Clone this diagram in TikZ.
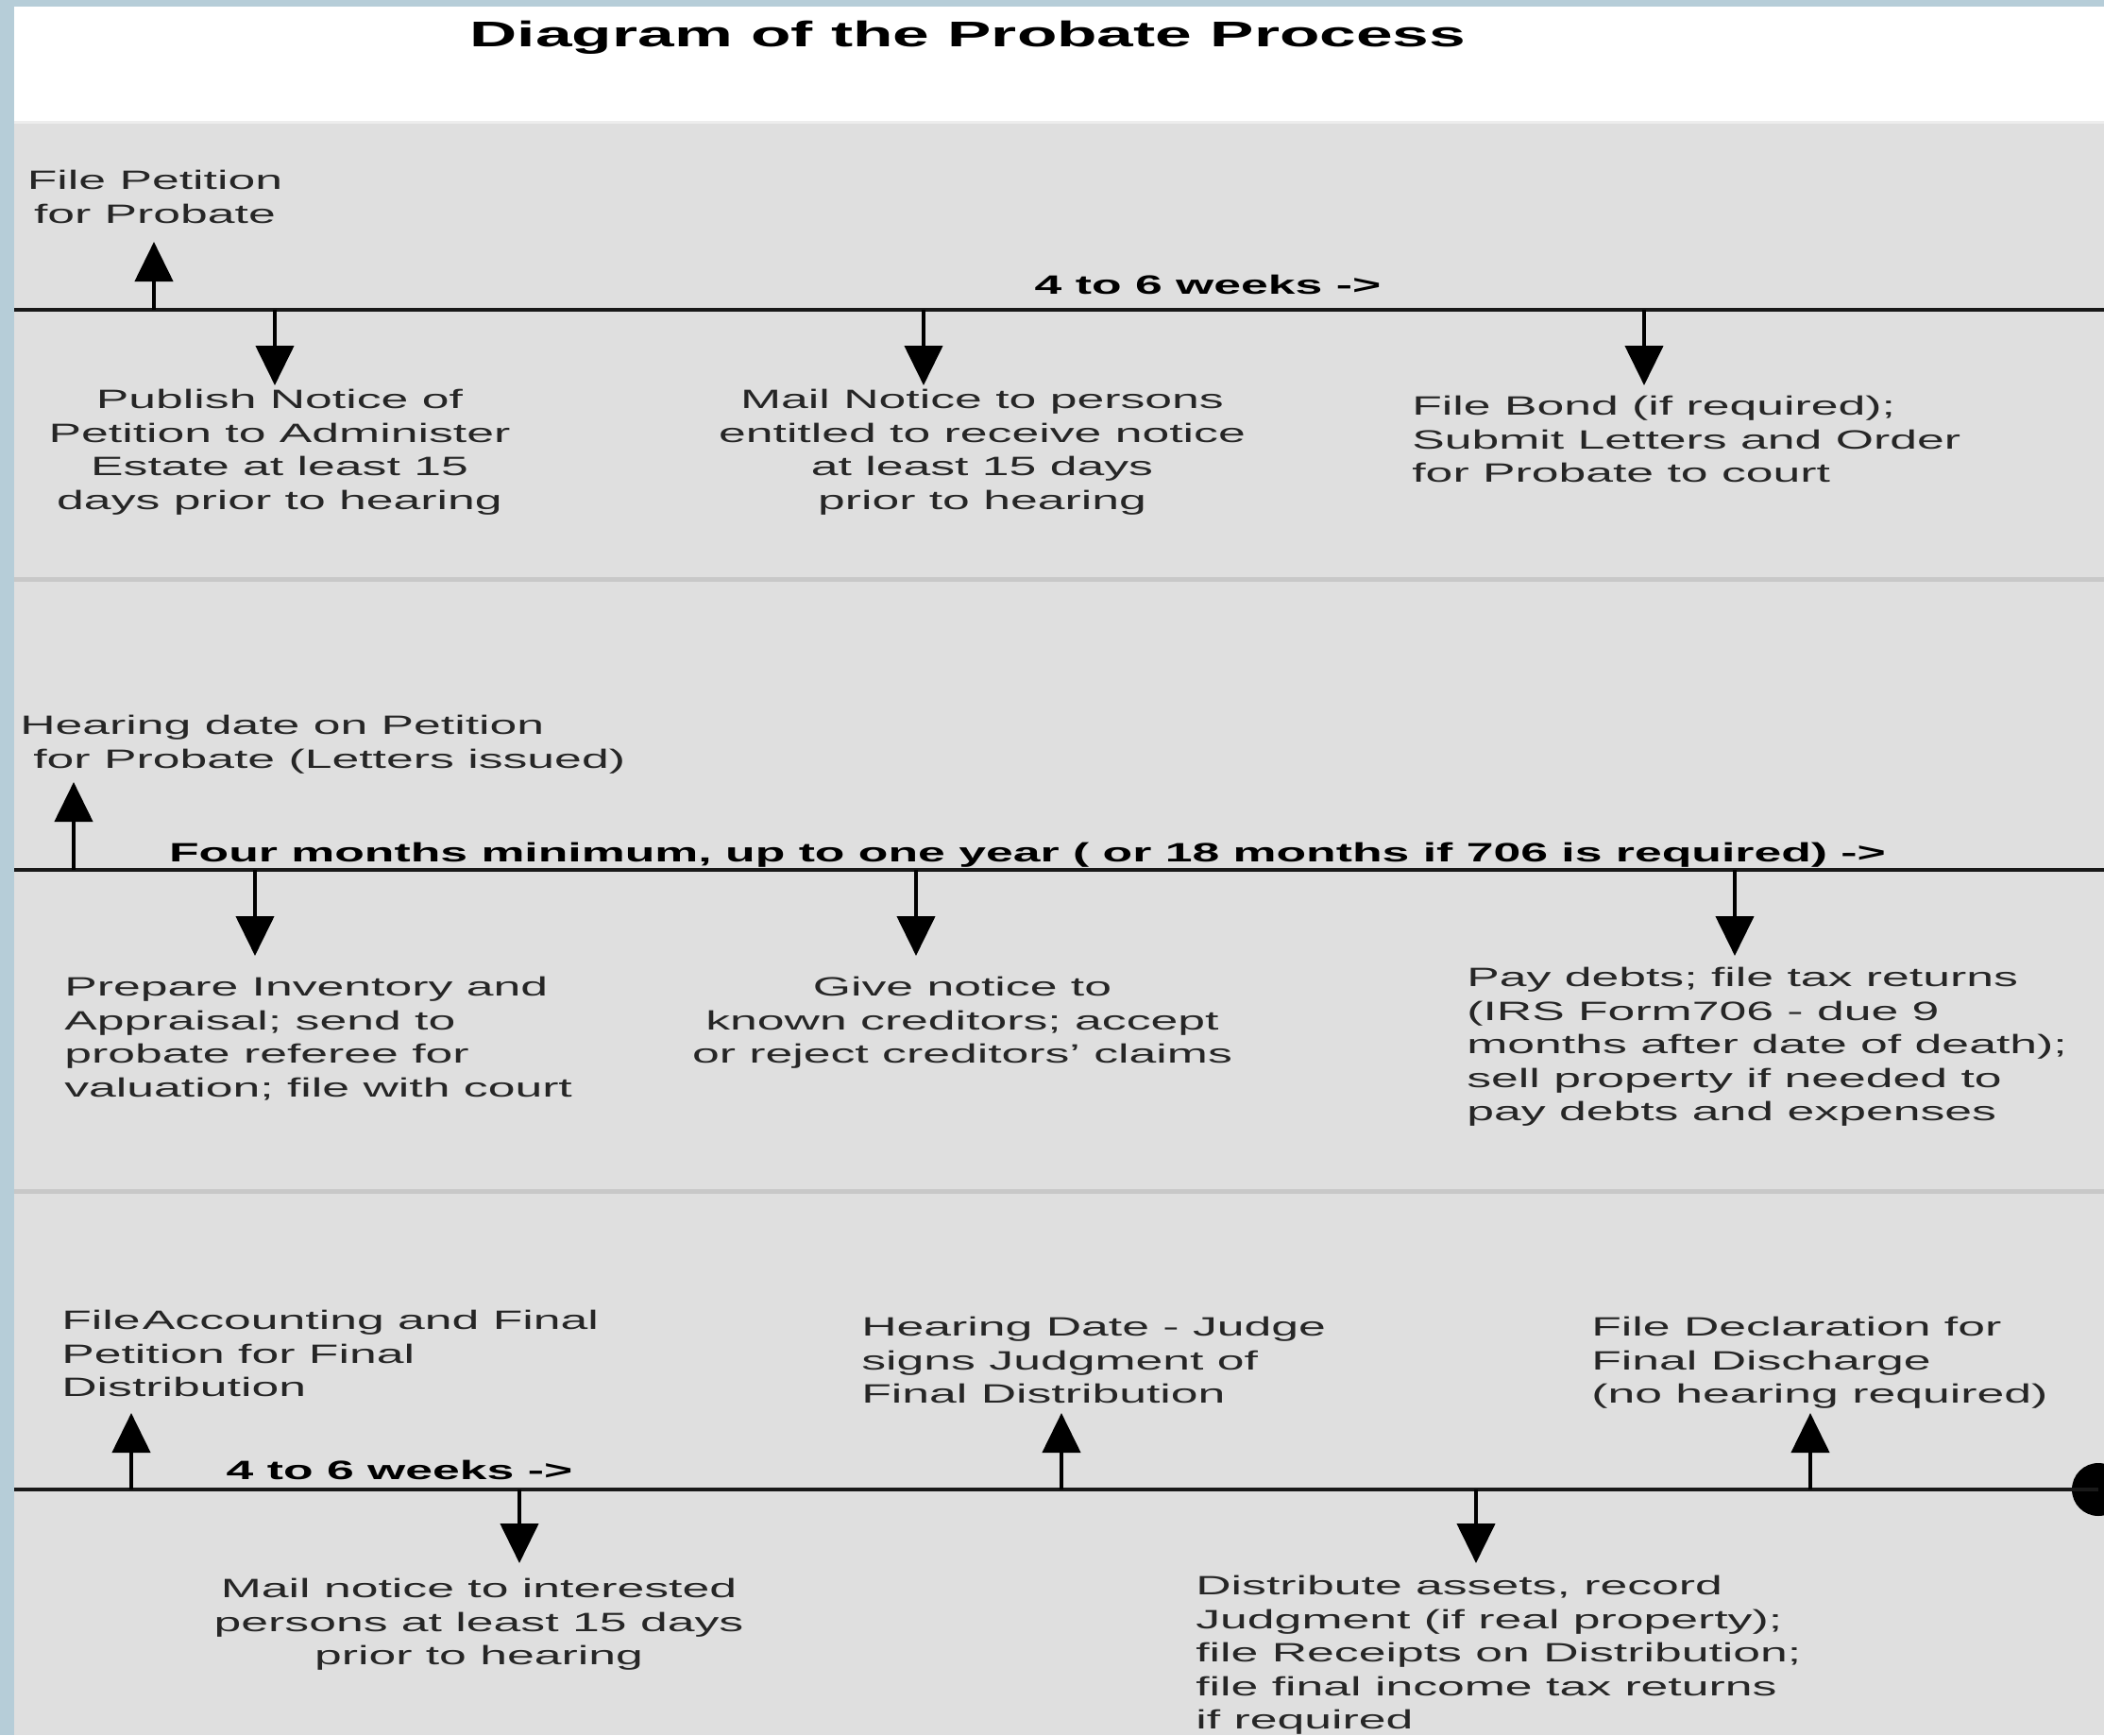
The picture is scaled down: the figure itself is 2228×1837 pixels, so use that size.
\documentclass[tikz,border=0pt]{standalone}
\usepackage{fontspec}
\setmainfont{Liberation Sans}[FakeStretch=1.84]
\usetikzlibrary{arrows.meta}

\definecolor{framebl}{HTML}{B6CDD8}
\definecolor{panelgr}{HTML}{DFDFDF}
\definecolor{sepgr}{HTML}{C8C8C8}

\tikzset{
  timeline/.style={line width=2.7pt, draw=black!90},
  evt/.style={line width=2.5pt, -{Triangle[width=0.8cm,length=0.84cm]}},
  lbl/.style={inner sep=0pt, font=\fontsize{16}{20.2}\selectfont, text=black!85},
  wk/.style={inner sep=0pt, font=\fontsize{16}{20.2}\selectfont\bfseries, anchor=base},
  enddot/.style={circle, fill=black, minimum size=1.12cm, inner sep=0pt},
}

\begin{document}
\begin{tikzpicture}[x=0.02cm, y=-0.02cm]
    % Background and frame
    \useasboundingbox (0,0) rectangle (2228,1837);
    \fill[framebl] (0,0) rectangle (2228,1837);
    \fill[white] (15,7) rectangle (2228,128);
    \fill[panelgr] (15,128) rectangle (2228,1837);
    \fill[white!93!black] (15,128) rectangle (2228,131);
    \foreach \y in {611, 1259} {
      \fill[sepgr] (15,\y) rectangle (2228,\y+5);
    }

    % Title
    \node[inner sep=0pt, font=\fontsize{21.5}{26}\selectfont\bfseries] (title) at (1025,40) {Diagram of the Probate Process};

    % Timelines
    \coordinate (l1w) at (15,328);  \coordinate (l1e) at (2228,328);
    \coordinate (l2w) at (15,921);  \coordinate (l2e) at (2228,921);
    \coordinate (l3w) at (15,1577);
    \node[enddot] (fin) at (2222,1577) {};
    \draw[timeline] (l1w) -- (l1e);
    \draw[timeline] (l2w) -- (l2e);
    \draw[timeline] (l3w) -- (fin.center);

    % Durations
    \node[wk] (wk1) at (1279,311) {4 to 6 weeks ->};
    \node[wk] (wk2) at (1088,912) {Four months minimum, up to one year ( or 18 months if 706 is required) ->};
    \node[wk] (wk3) at (423,1566) {4 to 6 weeks ->};

    % Row 1 steps
    \node[lbl, align=center, anchor=north] (fp) at (164,180) {File Petition\\for Probate};
    \node[lbl, align=center, anchor=north] (pub) at (296,412) {Publish Notice of\\Petition to Administer\\Estate at least 15\\days prior to hearing};
    \node[lbl, align=center, anchor=north] (mail) at (1040,412) {Mail Notice to persons\\entitled to receive notice\\at least 15 days\\prior to hearing};
    \node[lbl, align=left, anchor=north west] (bond) at (1495,419) {File Bond (if required);\\Submit Letters and Order\\for Probate to court};

    % Row 2 steps
    \node[lbl, align=left, anchor=north west] (hear) at (21,757) {Hearing date on Petition\\\hspace*{0.28cm}for Probate (Letters issued)};
    \node[lbl, align=left, anchor=north west] (prep) at (68,1034) {Prepare Inventory and\\Appraisal; send to\\probate referee for\\valuation; file with court};
    \node[lbl, align=center, anchor=north] (give) at (1019,1034) {Give notice to\\known creditors; accept\\or reject creditors' claims};
    \node[lbl, align=left, anchor=north west] (pay) at (1553,1024) {Pay debts; file tax returns\\(IRS Form706 - due 9\\months after date of death);\\sell property if needed to\\pay debts and expenses};

    % Row 3 steps
    \node[lbl, align=left, anchor=north west] (facc) at (65,1387) {File\hspace{0.08em}Accounting and Final\\Petition for Final\\Distribution};
    \node[lbl, align=left, anchor=north west] (judge) at (912,1394) {Hearing Date - Judge\\signs Judgment of\\Final Distribution};
    \node[lbl, align=left, anchor=north west] (decl) at (1685,1394) {File Declaration for\\Final Discharge\\(no hearing required)};
    \node[lbl, align=center, anchor=north] (mail2) at (507,1671) {Mail notice to interested\\persons at least 15 days\\prior to hearing};
    \node[lbl, align=left, anchor=north west] (dist) at (1266,1668) {Distribute assets, record\\Judgment (if real property);\\file Receipts on Distribution;\\file final income tax returns\\if required};

    % Event arrows: name/x/from/to
    \foreach \n/\x/\ya/\yb in {fp/163/328/256, pub/291/328/408, mail/978/328/408, bond/1741/328/408,
                               hear/78/921/828, prep/270/921/1012, give/970/921/1012, pay/1837/921/1012,
                               facc/139/1577/1496, judge/1124/1577/1496, decl/1917/1577/1496,
                               mail2/550/1577/1655, dist/1563/1577/1655} {
      \coordinate (\n-s) at (\x,\ya);
      \coordinate (\n-t) at (\x,\yb);
      \draw[evt] (\n-s) -- (\n-t);
    }

\end{tikzpicture}
\end{document}
